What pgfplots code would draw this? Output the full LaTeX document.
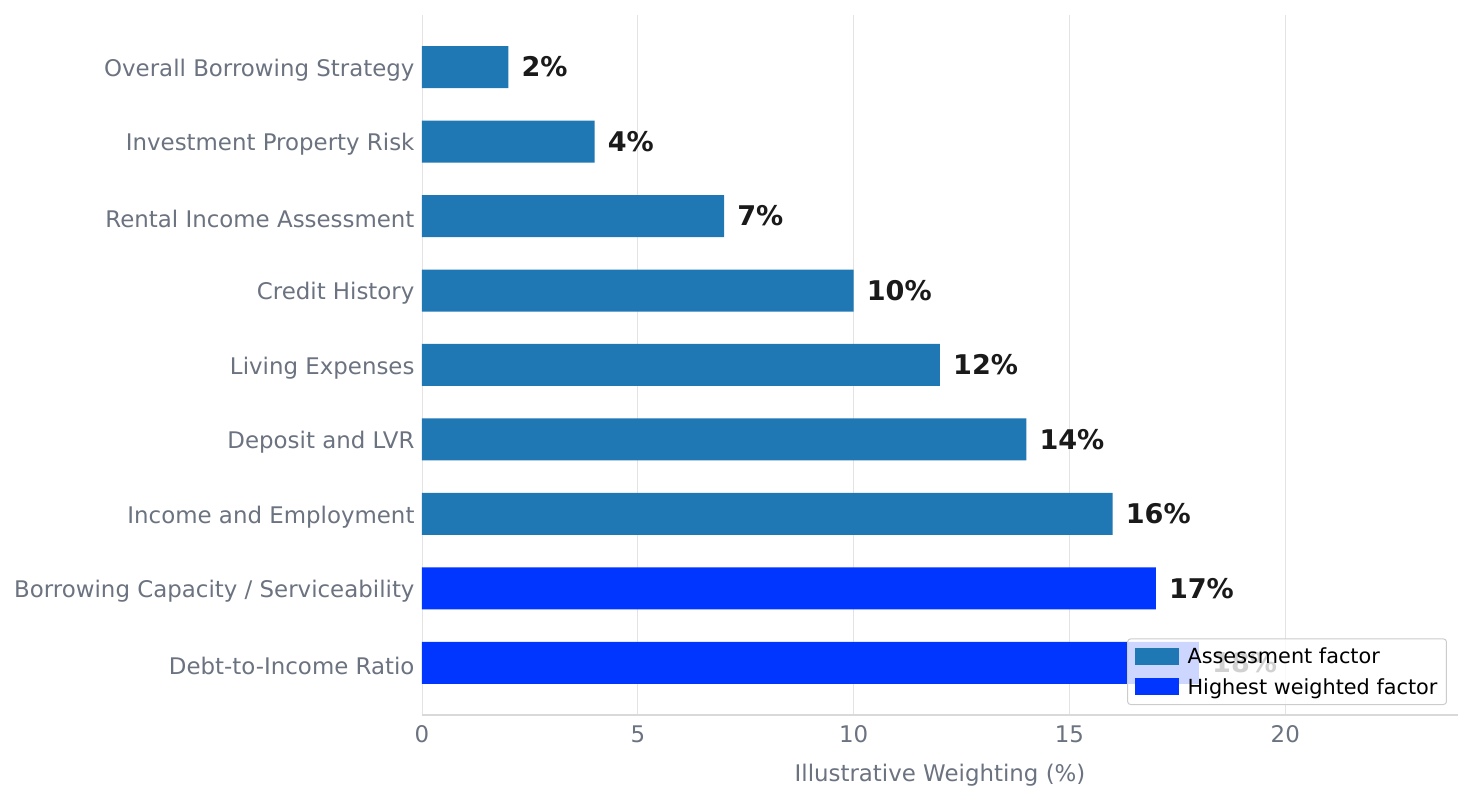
\documentclass[border=0pt]{standalone}
\usepackage{fontspec}
\setmainfont{DejaVu Sans}
\usepackage{pgfplots}
\pgfplotsset{compat=1.18}
\definecolor{barblue}{HTML}{1F77B4}
\definecolor{hiblue}{HTML}{0036FF}
\definecolor{labgray}{HTML}{6B7280}
\definecolor{valblack}{HTML}{1A1A1A}
\begin{document}
\begin{tikzpicture}
\path[use as bounding box] (-422bp,-86bp) rectangle (1050bp,715bp);
\begin{axis}[
  at={(0,0)}, anchor=south west,
  scale only axis, width=1036bp, height=700bp,
  xmin=0, xmax=24, ymin=-0.7, ymax=8.7,
  xtick={0,5,10,15,20},
  ytick={0,1,2,3,4,5,6,7,8},
  yticklabels={Debt-to-Income Ratio,Borrowing Capacity / Serviceability,Income and Employment,Deposit and LVR,Living Expenses,Credit History,Rental Income Assessment,Investment Property Risk,Overall Borrowing Strategy},
  major tick length=0pt,
  axis x line*=bottom, axis y line*=left,
  x axis line style={draw=black!15, line width=1.2bp},
  y axis line style={draw=none},
  xmajorgrids, major grid style={draw=black!11, line width=0.8bp},
  /pgf/number format/assume math mode=true,
  ticklabel style={font=\fontsize{22.9bp}{27bp}\selectfont, text=labgray},
  yticklabel style={xshift=-4bp, yshift=-3bp},
  xticklabel style={yshift=-7bp},
  xlabel={Illustrative Weighting (\%)},
  xlabel style={font=\fontsize{22.9bp}{27bp}\selectfont, text=labgray, yshift=-14bp},
  xbar, bar width=42bp, bar shift=0pt,
  nodes near coords={\pgfmathprintnumber{\pgfplotspointmeta}\%},
  point meta=x,
  nodes near coords style={font=\bfseries\fontsize{27.1bp}{30bp}\selectfont, text=valblack, anchor=west, inner sep=0pt, xshift=13bp},
  legend style={at={(rel axis cs:1,0)}, anchor=south east, xshift=-11bp, yshift=10bp,
    draw=black!20, line width=1bp, rounded corners=3bp, fill=white, fill opacity=0.8, text opacity=1,
    font=\fontsize{20.8bp}{24bp}\selectfont, row sep=9bp, inner xsep=7bp, inner ysep=7bp,
    /tikz/every odd column/.append style={column sep=7bp}},
  legend cell align=left,
]
\addplot[fill=barblue, draw=none,
  legend image code/.code={\fill[barblue, fill opacity=1, sharp corners] (0bp,-8.5bp) rectangle (44bp,8.5bp);}]
  coordinates {(2,8) (4,7) (7,6) (10,5) (12,4) (14,3) (16,2)};
\addlegendentry{Assessment factor}
\addplot[fill=hiblue, draw=none,
  legend image code/.code={\fill[hiblue, fill opacity=1, sharp corners] (0bp,-8.5bp) rectangle (44bp,8.5bp);}]
  coordinates {(18,0) (17,1)};
\addlegendentry{Highest weighted factor}
\end{axis}
\end{tikzpicture}
\end{document}
